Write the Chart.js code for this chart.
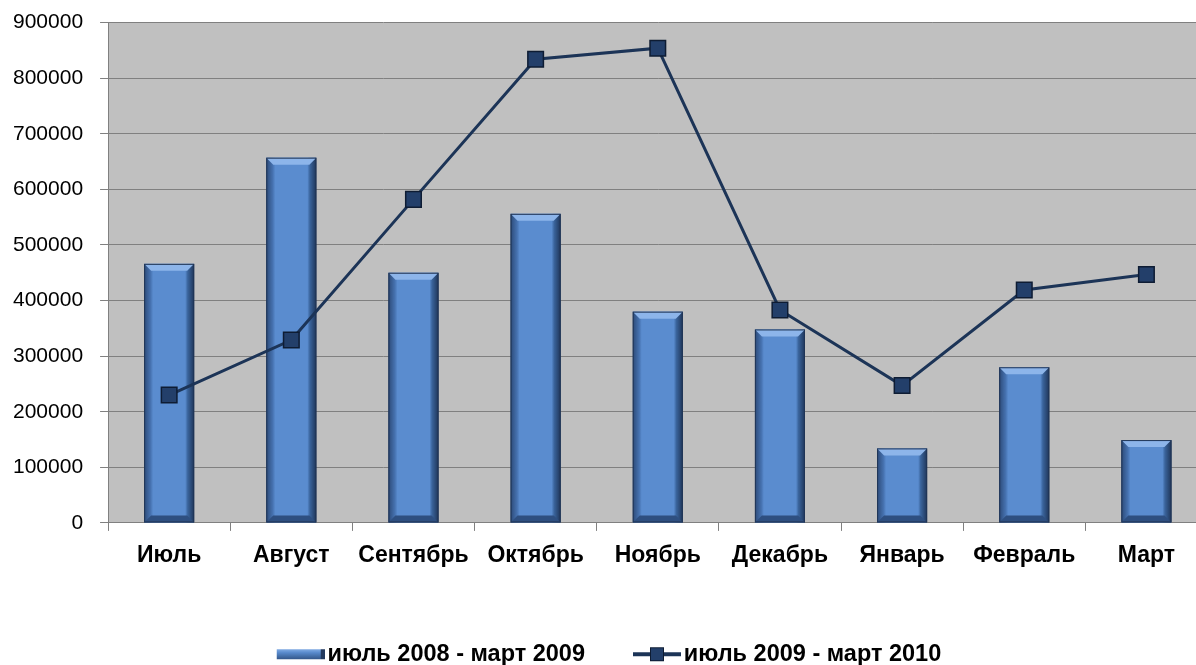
<!DOCTYPE html>
<html>
<head>
<meta charset="utf-8">
<script src="https://cdn.jsdelivr.net/npm/chart.js@4"></script>
<style>
  html, body { margin: 0; padding: 0; background: #fff; overflow: hidden; width: 1196px; height: 665px; }
  /* el original está recortado por la derecha: el área del gráfico sigue más allá del borde */
  #wrap { width: 1220px; height: 672px; margin-top: -7px; }
</style>
</head>
<body>
<div id="wrap"><canvas id="grafico"></canvas></div>
<script>
const meses = ['Июль', 'Август', 'Сентябрь', 'Октябрь', 'Ноябрь', 'Декабрь', 'Январь', 'Февраль', 'Март'];
const periodo1 = 'июль 2008 - март 2009';
const periodo2 = 'июль 2009 - март 2010';
const valores1 = [466000, 657000, 450000, 556000, 380000, 348000, 134000, 280000, 149000];
const valores2 = [230000, 329000, 582000, 834000, 854000, 383000, 247000, 419000, 447000];

const fuente = 'Liberation Sans, Arial, sans-serif';

// iconos de la leyenda (9 px transparentes a la izquierda para acercar el texto)
function iconoBarra() {
    const c = document.createElement('canvas');
    c.width = 57; c.height = 12;
    const ctx = c.getContext('2d');
    const g = ctx.createLinearGradient(0, 0, 0, 12);
    g.addColorStop(0, '#8fb6ea');
    g.addColorStop(0.35, '#5a8ccf');
    g.addColorStop(1, '#2e4f80');
    ctx.fillStyle = g;
    ctx.fillRect(9, 1, 48, 10);
    ctx.fillStyle = '#22395e';
    ctx.fillRect(53, 1, 4, 10);
    return c;
}

function iconoLinea() {
    const c = document.createElement('canvas');
    c.width = 57; c.height = 16;
    const ctx = c.getContext('2d');
    ctx.strokeStyle = '#1c3457';
    ctx.lineWidth = 4;
    ctx.beginPath();
    ctx.moveTo(9, 8);
    ctx.lineTo(57, 8);
    ctx.stroke();
    ctx.fillStyle = '#233f6a';
    ctx.fillRect(26, 1, 14, 14);
    ctx.strokeStyle = '#0e1c33';
    ctx.lineWidth = 1;
    ctx.strokeRect(26.5, 1.5, 13, 13);
    return c;
}

// fondo gris del área del gráfico
const fondo = {
    id: 'fondo',
    beforeDraw(chart) {
        const a = chart.chartArea;
        const ctx = chart.ctx;
        ctx.save();
        ctx.fillStyle = '#c0c0c0';
        ctx.fillRect(a.left, a.top, a.right - a.left, a.bottom - a.top);
        ctx.restore();
    }
};

// la leyenda queda donde estaba en el original
const moverLeyenda = {
    id: 'moverLeyenda',
    afterLayout(chart) {
        const lg = chart.legend;
        if (!lg) return;
        const d = 609 - (lg.left + lg.right) / 2;
        lg.left += d;
        lg.right += d;
    }
};

// biselado de las barras, a partir de los elementos del propio Chart.js
const bisel = {
    id: 'bisel',
    afterDatasetDraw(chart, args) {
        if (chart.data.datasets[args.index].type !== 'bar') return;
        const ctx = chart.ctx;
        chart.getDatasetMeta(args.index).data.forEach(bar => {
            const p = bar.getProps(['x', 'y', 'base', 'width'], true);
            const w = p.width, x0 = p.x - w / 2, x1 = p.x + w / 2;
            const y0 = p.y, y1 = p.base;
            if (!isFinite(w) || !isFinite(y0)) return;
            const b = 7;
            ctx.save();
            const g = ctx.createLinearGradient(x0, 0, x1, 0);
            g.addColorStop(0, '#2c4a78');
            g.addColorStop(0.13, '#4672b0');
            g.addColorStop(0.18, '#5a8ccf');
            g.addColorStop(0.82, '#5a8ccf');
            g.addColorStop(0.87, '#3a649c');
            g.addColorStop(1, '#1f3558');
            ctx.fillStyle = g;
            ctx.fillRect(x0, y0, w, y1 - y0);
            // tapa superior
            ctx.beginPath();
            ctx.moveTo(x0, y0);
            ctx.lineTo(x1, y0);
            ctx.lineTo(x1 - b, y0 + b);
            ctx.lineTo(x0 + b, y0 + b);
            ctx.closePath();
            ctx.fillStyle = '#8db5ea';
            ctx.fill();
            // base inferior
            ctx.beginPath();
            ctx.moveTo(x0, y1);
            ctx.lineTo(x1, y1);
            ctx.lineTo(x1 - b, y1 - b);
            ctx.lineTo(x0 + b, y1 - b);
            ctx.closePath();
            ctx.fillStyle = '#2e4f80';
            ctx.fill();
            ctx.strokeStyle = '#203556';
            ctx.lineWidth = 1;
            ctx.strokeRect(x0 + 0.5, y0 + 0.5, w - 1, y1 - y0 - 1);
            ctx.restore();
        });
    }
};

const iconos = { bar: iconoBarra(), line: iconoLinea() };

new Chart(document.getElementById('grafico'), {
    data: {
        labels: meses,
        datasets: [
            {
                type: 'line',
                label: periodo2,
                data: valores2,
                borderColor: '#1c3457',
                backgroundColor: '#1f3c66',
                borderWidth: 3,
                pointStyle: 'rect',
                pointRadius: 11,
                pointBorderColor: '#0e1c33',
                pointBorderWidth: 1.5,
                pointBackgroundColor: '#233f6a',
                tension: 0,
                order: 0
            },
            {
                type: 'bar',
                label: periodo1,
                data: valores1,
                backgroundColor: '#5a8ccf',
                borderColor: '#203556',
                borderWidth: 1,
                barPercentage: 0.41,
                categoryPercentage: 1,
                order: 1
            }
        ]
    },
    options: {
        responsive: true,
        maintainAspectRatio: false,
        animation: false,
        layout: { padding: { left: -4, right: 0, top: 5, bottom: -11 } },
        plugins: {
            tooltip: { enabled: false },
            legend: {
                position: 'bottom',
                reverse: true,
                labels: {
                    color: '#000',
                    font: { family: fuente, size: 23.5, weight: 'bold' },
                    usePointStyle: true,
                    pointStyleWidth: 39,
                    padding: 48,
                    generateLabels(chart) {
                        return chart.data.datasets.map((ds, i) => ({
                            text: ds.label,
                            pointStyle: iconos[ds.type],
                            datasetIndex: i,
                            hidden: false,
                            lineWidth: 0,
                            fontColor: '#000'
                        }));
                    }
                }
            }
        },
        scales: {
            x: {
                grid: { display: true, drawOnChartArea: false, color: '#808080', tickLength: 8, offset: true },
                border: { color: '#808080' },
                ticks: {
                    color: '#000',
                    autoSkip: false,
                    maxRotation: 0,
                    padding: 11,
                    font: { family: fuente, size: 23, weight: 'bold' }
                },
                afterFit(scale) { scale.height += 14; }
            },
            y: {
                min: 0,
                max: 900000,
                ticks: {
                    stepSize: 100000,
                    color: '#000',
                    padding: 17,
                    font: { family: fuente, size: 21 },
                    callback: v => String(v)
                },
                grid: { color: '#808080', tickLength: 8 },
                border: { color: '#808080' }
            }
        }
    },
    plugins: [fondo, moverLeyenda, bisel]
});
</script>
</body>
</html>
